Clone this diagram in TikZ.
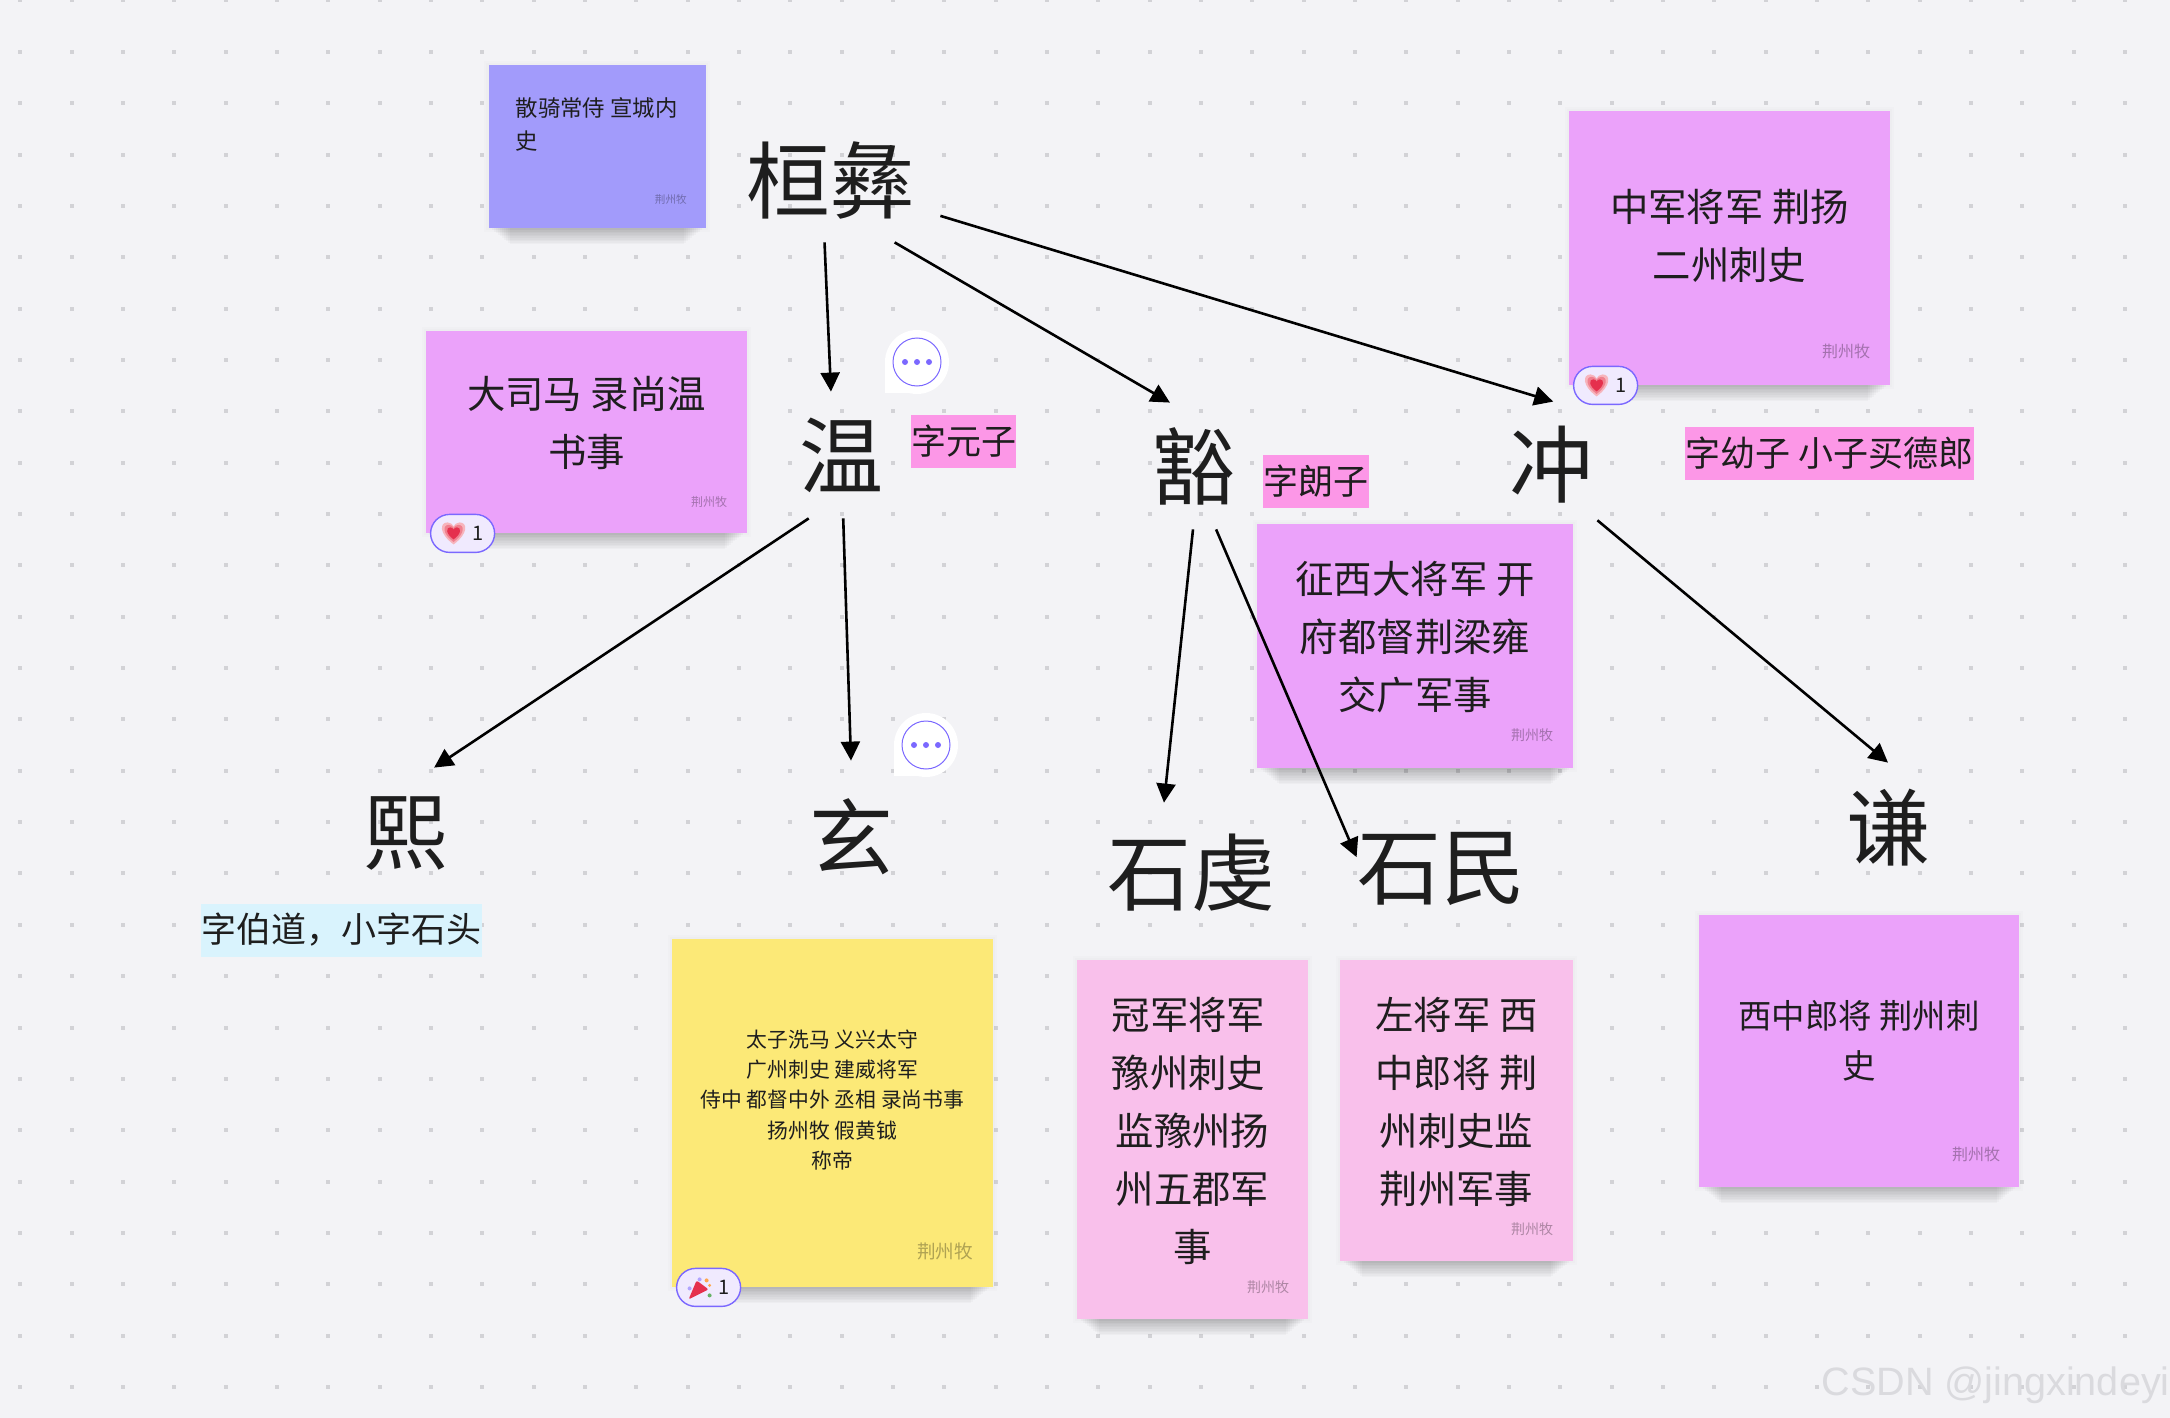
\documentclass[tikz,border=0pt]{standalone}
\usepackage{fontspec}
\setmainfont{Noto Sans CJK SC}
\newfontfamily\markfont{Liberation Sans}
\usetikzlibrary{arrows.meta,backgrounds}

\definecolor{boardbg}{HTML}{F3F3F6}
\definecolor{gridgrey}{HTML}{D2D2D6}
\definecolor{inkdark}{HTML}{1E1E1E}
\definecolor{notepurple}{HTML}{A29BFB}
\definecolor{notelilac}{HTML}{EBA2FA}
\definecolor{noteyellow}{HTML}{FCE977}
\definecolor{notepink}{HTML}{F9C0EB}
\definecolor{tagpink}{HTML}{FC97E7}
\definecolor{tagblue}{HTML}{D9F3FD}
\definecolor{ringblue}{HTML}{7B68FF}
\definecolor{badgefill}{HTML}{F0EAFE}
\definecolor{heartred}{HTML}{E5304D}
\definecolor{heartmid}{HTML}{F0808F}
\definecolor{heartpale}{HTML}{F7B4BC}
\definecolor{wmgrey}{HTML}{DADADE}

\newcommand{\heartpath}{(0,11) .. controls (-15,0) and (-14,-11) .. (-6,-11) .. controls (-3,-11) and (-1,-9) .. (0,-7) .. controls (1,-9) and (3,-11) .. (6,-11) .. controls (14,-11) and (15,0) .. (0,11) -- cycle}

\begin{document}
\begin{tikzpicture}[
    x=0.5pt,
    y=-0.5pt,
    person/.style 2 args={
        font=\fontsize{42pt}{46pt}\selectfont,
        text=inkdark,
        inner sep=0pt,
        minimum width=#1,
        minimum height=#2
    },
    sticky/.style 2 args={
        inner sep=0pt,
        minimum width=#1,
        minimum height=#2
    },
    memo/.style={
        font=\fontsize{19.2pt}{29pt}\selectfont,
        text=inkdark,
        align=center,
        inner sep=0pt
    },
    sign/.style={
        anchor=east,
        text=black,
        text opacity=.3,
        inner sep=0pt
    },
    tagbox/.style={
        font=\fontsize{17.5pt}{20pt}\selectfont,
        text=inkdark,
        inner sep=0pt,
        minimum height=26.5pt
    },
    badge/.style={
        draw=ringblue,
        line width=.7pt,
        fill=badgefill,
        rounded corners=9.5pt,
        inner sep=0pt,
        minimum width=32pt,
        minimum height=19pt,
        text=inkdark,
        font=\fontsize{10pt}{11pt}\selectfont
    },
    chatring/.style={
        circle,
        draw=ringblue,
        line width=.5pt,
        fill=white,
        inner sep=0pt,
        minimum size=24pt
    },
    arrow/.style={-{Triangle[length=9.5pt,width=9.5pt]}, line width=1.3pt},
    pics/heartfig/.style={code={
        \fill[heartpale] \heartpath;
        \fill[heartmid, scale=.78] \heartpath;
        \fill[heartred, scale=.55] \heartpath;
    }},
    pics/popperfig/.style={code={
        \fill[heartred, rounded corners=1pt] (-20,12) -- (-12,-7) -- (0,2) -- cycle;
        \fill[ringblue!60] (-9,-8) circle[radius=1pt];
        \fill[ringblue!60] (-19,1) circle[radius=1pt];
        \fill[orange!70] (-2,-7) circle[radius=1pt];
        \fill[orange!70] (1,-2) circle[radius=.8pt];
        \fill[green!50!black!60] (1,8) circle[radius=1pt];
    }}
]

\useasboundingbox (0,0) rectangle (2170,1418);

% sticky notes
\node[sticky={108.5pt}{81.5pt}, fill=notepurple] (offnote) at (597.25,146.5) {};
\node[sticky={160.5pt}{101pt}, fill=notelilac] (wennote) at (586.5,432) {};
\node[sticky={160.5pt}{137pt}, fill=notelilac] (chongnote) at (1729.5,248) {};
\node[sticky={158pt}{122pt}, fill=notelilac] (huonote) at (1415,646) {};
\node[sticky={160.5pt}{174pt}, fill=noteyellow] (xuannote) at (832.5,1113) {};
\node[sticky={115.5pt}{179.5pt}, fill=notepink] (qiannote) at (1192.5,1139.5) {};
\node[sticky={116.5pt}{150.5pt}, fill=notepink] (minnote) at (1456.5,1110.5) {};
\node[sticky={160pt}{136pt}, fill=notelilac] (qnote) at (1859,1051) {};

\begin{pgfonlayer}{background}
    \fill[boardbg] (0,0) rectangle (2170,1418);
    % dotted board
    \foreach \i in {0,...,42}
        \foreach \j in {0,...,27}
            \fill[gridgrey] ({18.4+51.33*\i},{-1.5+51.35*\j}) rectangle ++(4,4);
    % soft shadows under the notes
    \foreach \n in {offnote,wennote,chongnote,huonote,xuannote,qiannote,minnote,qnote} {
        \foreach \k in {1,2}
            \fill[black, opacity=.012] ([xshift=-\k pt,yshift=-\k pt]\n.south west) rectangle ([xshift=\k pt,yshift=\k pt]\n.north east);
        \foreach \k in {1,...,10}
            \fill[black, opacity=.024] ([xshift=\k pt+1pt,yshift=-.8*\k pt]\n.south west) rectangle ([xshift=-\k pt-1pt]\n.south east);
    }
\end{pgfonlayer}

\node[memo, anchor=west, align=left, font=\fontsize{11.2pt}{16.5pt}\selectfont] (offtext)
    at ([xshift=-41pt,yshift=11pt]offnote.center) {散骑常侍 宣城内\\史};
\node[memo] (wentext) at ([yshift=4.7pt]wennote.center) {大司马 录尚温\\书事};
\node[memo] (chongtext) at ([yshift=5.8pt]chongnote.center) {中军将军 荆扬\\二州刺史};
\node[memo] (huotext) at ([yshift=4.5pt]huonote.center) {征西大将军 开\\府都督荆梁雍\\交广军事};
\node[memo, font=\fontsize{10.4pt}{15.2pt}\selectfont] (xuantext) at ([yshift=6.5pt]xuannote.center)
    {太子洗马 义兴太守\\广州刺史 建威将军\\侍中 都督中外 丞相 录尚书事\\扬州牧 假黄钺\\称帝};
\node[memo] (qiantext) at ([yshift=4.5pt]qiannote.center)
    {冠军将军\kern4pt\\豫州刺史\kern4pt\\监豫州扬\\州五郡军\\事};
\node[memo] (mintext) at ([yshift=4.3pt]minnote.center) {左将军 西\\中郎将 荆\\州刺史监\\荆州军事};
\node[memo, font=\fontsize{16.7pt}{25pt}\selectfont] (qtext) at ([yshift=5pt]qnote.center) {西中郎将 荆州刺\\史};

\node[sign, font=\fontsize{5.3pt}{6pt}\selectfont] (offsign) at ([xshift=-9.5pt,yshift=14.5pt]offnote.south east) {荆州牧};
\node[sign, font=\fontsize{6pt}{7pt}\selectfont] (wensign) at ([xshift=-10pt,yshift=15.5pt]wennote.south east) {荆州牧};
\node[sign, font=\fontsize{8pt}{9pt}\selectfont] (chongsign) at ([xshift=-10pt,yshift=17pt]chongnote.south east) {荆州牧};
\node[sign, font=\fontsize{7pt}{8pt}\selectfont] (huosign) at ([xshift=-10pt,yshift=16.5pt]huonote.south east) {荆州牧};
\node[sign, font=\fontsize{9.3pt}{10pt}\selectfont] (xuansign) at ([xshift=-10pt,yshift=18pt]xuannote.south east) {荆州牧};
\node[sign, font=\fontsize{7pt}{8pt}\selectfont] (qiansign) at ([xshift=-9.5pt,yshift=16pt]qiannote.south east) {荆州牧};
\node[sign, font=\fontsize{7pt}{8pt}\selectfont] (minsign) at ([xshift=-10pt,yshift=16pt]minnote.south east) {荆州牧};
\node[sign, font=\fontsize{8pt}{9pt}\selectfont] (qsign) at ([xshift=-9.5pt,yshift=16.5pt]qnote.south east) {荆州牧};

% name tags
\node[tagbox, fill=tagpink, minimum width=52.5pt] (wentag) at (963.5,441.5) {\raisebox{-.5pt}{字元子}};
\node[tagbox, fill=tagpink, minimum width=53pt] (huotag) at (1316,481.5) {\raisebox{-.5pt}{字朗子}};
\node[tagbox, fill=tagpink, minimum width=144.5pt] (chongtag) at (1829.5,453.5) {\raisebox{-.5pt}{字幼子 小子买德郎}};
\node[tagbox, fill=tagblue, minimum width=140.5pt] (xitag) at (341.5,930) {\raisebox{-.5pt}{字伯道，小字石头}};

% people
\node[person={110pt}{62pt}] (huanyi) at (830,180) {桓彝};
\node[person={50pt}{63pt}] (wen) at (841,455) {温};
\node[person={50pt}{63pt}] (huo) at (1193,466) {豁};
\node[person={46pt}{63pt}] (chong) at (1551,465) {冲};
\node[person={50pt}{65pt}] (xi) at (405,833) {熙};
\node[person={50pt}{76pt}] (xuan) at (851,837) {玄};
\node[person={85pt}{70pt}] (shiqian) at (1191,873) {石虔};
\node[person={83pt}{60pt}] (shimin) at (1441,869) {石民};
\node[person={50pt}{65pt}] (qian) at (1888,828) {谦};

\draw [arrow] (huanyi.-95) -- (wen.99);
\draw [arrow] (huanyi.-44.5) -- (huo.110);
\draw [arrow] (huanyi.-18) -- (chong.88);
\draw [arrow] (wen.-117.6) -- (xi.66.7);
\draw [arrow] (wen.-88) -- (xuan.north);
\draw [arrow] (huo.south) -- (shiqian.111);
\draw [arrow] (huo.-70.7) -- (shimin.172.5);
\draw [arrow] (chong.-50) -- (qian.north);

% comment bubbles
\foreach \cx/\cy/\bubble in {917/362/wenchat, 926/745/xuanchat} {
    \fill[white] (\cx,\cy) circle[radius=16pt];
    \fill[white] ({\cx-32},\cy) rectangle (\cx,{\cy+31});
    \node[chatring] (\bubble) at (\cx,\cy) {};
    \foreach \d in {-1,0,1}
        \fill[ringblue] ({\cx+\d*12},\cy) circle[radius=1.5pt];
}

% reactions
\node[badge] (wenbadge) at ([xshift=18.5pt]wennote.south west) {\hspace*{15pt}1};
\node[badge] (chongbadge) at ([xshift=18.5pt]chongnote.south west) {\hspace*{15pt}1};
\node[badge] (xuanbadge) at ([xshift=18.5pt]xuannote.south west) {\hspace*{15pt}1};
\pic at ([xshift=-4.5pt]wenbadge.center) {heartfig};
\pic at ([xshift=-4.5pt]chongbadge.center) {heartfig};
\pic at (xuanbadge.center) {popperfig};

\node[anchor=west, inner sep=0pt, text=wmgrey, font=\markfont\fontsize{19.8pt}{24pt}\selectfont] (wmark)
    at (1821,1385) {CSDN @jingxindeyi};

\end{tikzpicture}
\end{document}
